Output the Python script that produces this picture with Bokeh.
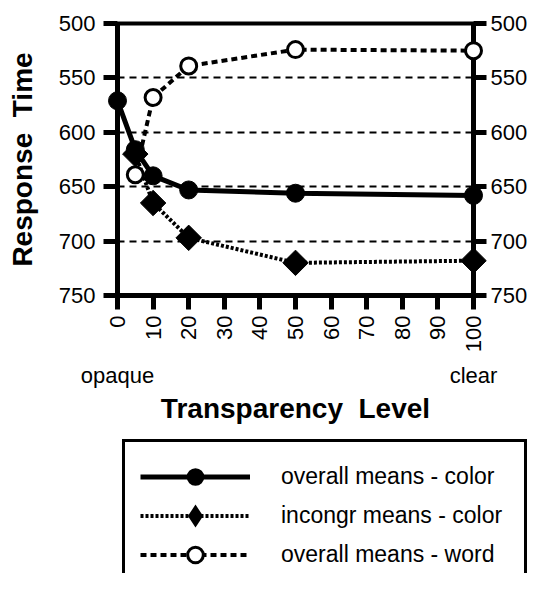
import numpy as np
from bokeh.plotting import figure
from bokeh.layouts import column
from bokeh.models import Range1d, LinearAxis, FixedTicker
from bokeh.embed import file_html
from bokeh.resources import INLINE

# ---- data ----
x_color = [0, 5, 10, 20, 50, 100]
y_color = [571, 616, 640, 653, 656, 658]
x_incongr = [5, 10, 20, 50, 100]
y_incongr = [620, 665, 697, 720, 718]
x_word = [5, 10, 20, 50, 100]
y_word = [639, 568, 539, 524, 525]
y_ticks = [500, 550, 600, 650, 700, 750]
grid_ticks = [550, 600, 650, 700]
x_ticks = [0, 10, 20, 30, 40, 50, 60, 70, 80, 90, 100]
end_ticks = [0, 100]
end_labels = {0: "opaque", 100: "clear"}

lab_c = "overall means - color"
lab_i = "incongr means - color"
lab_w = "overall means - word"

FONT = "Liberation Sans"

p = figure(width=530, height=430, x_range=Range1d(0, 100), y_range=Range1d(750, 500),
           output_backend="svg", toolbar_location=None,
           min_border_left=117, min_border_top=23, min_border_bottom=135, min_border_right=40,
           background_fill_color="white", border_fill_color="white")
p.frame_align = False

p.outline_line_color = "black"
p.outline_line_width = 4

p.xgrid.visible = False
p.ygrid.ticker = FixedTicker(ticks=grid_ticks)
p.ygrid.grid_line_color = "black"
p.ygrid.grid_line_width = 2
p.ygrid.grid_line_dash = "7 5"


def style_axis(ax, tick_out=14):
    ax.axis_line_color = "black"
    ax.axis_line_width = 5
    ax.major_tick_line_color = "black"
    ax.major_tick_line_width = 5
    ax.major_tick_out = tick_out
    ax.major_tick_in = 0
    ax.minor_tick_line_color = None
    ax.major_label_text_font = FONT
    ax.major_label_text_font_size = "22px"
    ax.major_label_text_color = "black"
    ax.axis_label_text_font = FONT
    ax.axis_label_text_font_size = "28px"
    ax.axis_label_text_font_style = "bold"
    ax.axis_label_text_color = "black"


# left axis
yl = p.yaxis[0]
yl.ticker = FixedTicker(ticks=y_ticks)
style_axis(yl)
yl.major_label_standoff = 8
yl.axis_label = "Response \u00a0Time"
yl.axis_label_standoff = 18

# right axis
yr = LinearAxis(ticker=FixedTicker(ticks=y_ticks))
style_axis(yr, tick_out=13)
yr.major_label_standoff = 4
p.add_layout(yr, "right")

# bottom axis with numeric ticks
xb = p.xaxis[0]
xb.ticker = FixedTicker(ticks=x_ticks)
style_axis(xb)
xb.major_label_orientation = np.pi / 2
xb.major_label_standoff = 6

# second bottom axis: opaque / clear + title
xb2 = LinearAxis(ticker=FixedTicker(ticks=end_ticks))
style_axis(xb2)
xb2.axis_line_color = None
xb2.major_tick_line_color = None
xb2.major_tick_out = 0
xb2.major_label_overrides = end_labels
xb2.major_label_standoff = 7
xb2.axis_label = "Transparency \u00a0Level"
xb2.axis_label_standoff = 2
p.add_layout(xb2, "below")

# series
p.line(x_word, y_word, line_color="black", line_width=4, line_dash="6 4")
p.line(x_incongr, y_incongr, line_color="black", line_width=4, line_dash="3 2")
p.line(x_color, y_color, line_color="black", line_width=5)

p.scatter(x_word, y_word, marker="circle", size=16, fill_color="white",
          line_color="black", line_width=3, level="overlay")
p.scatter(x_incongr, y_incongr, marker="square", angle=np.pi / 4, size=18,
          fill_color="black", line_color="black", level="overlay")
p.scatter(x_color, y_color, marker="circle", size=18, fill_color="black",
          line_color="black", level="overlay")

# ---- legend panel (second figure below the chart; its ranges keep the data out of view) ----
q = figure(width=530, height=143, output_backend="svg", toolbar_location=None,
           x_range=Range1d(0, 1), y_range=Range1d(0, 1),
           min_border=0, background_fill_color="white", border_fill_color="white")
q.frame_align = False
q.axis.visible = False
q.grid.visible = False
q.outline_line_color = None

q.line(x_color, y_color, line_color="black", line_width=5, legend_label=lab_c)
q.scatter(x_color, y_color, marker="circle", fill_color="black", line_color="black",
          line_width=2, legend_label=lab_c)
q.line(x_incongr, y_incongr, line_color="black", line_width=4, line_dash="3 2", legend_label=lab_i)
q.scatter(x_incongr, y_incongr, marker="diamond", fill_color="black", line_color="black",
          line_width=4, line_join="miter", legend_label=lab_i)
q.line(x_word, y_word, line_color="black", line_width=4, line_dash="6 4", legend_label=lab_w)
q.scatter(x_word, y_word, marker="circle", fill_color="white", line_color="black", line_width=3,
          legend_label=lab_w)

leg = q.legend[0]
leg.location = (122, -19)
leg.border_line_color = "black"
leg.border_line_alpha = 1
leg.border_line_width = 3
leg.background_fill_color = "white"
leg.background_fill_alpha = 1
leg.padding = 15
leg.spacing = 0
leg.margin = 0
leg.glyph_width = 110
leg.glyph_height = 39
leg.label_height = 39
leg.label_width = 228
leg.label_standoff = 31
leg.label_text_font = FONT
leg.label_text_font_size = "23px"
leg.label_text_color = "black"

layout = column(p, q, spacing=0)
open("out.html", "w").write(file_html(layout, INLINE))
